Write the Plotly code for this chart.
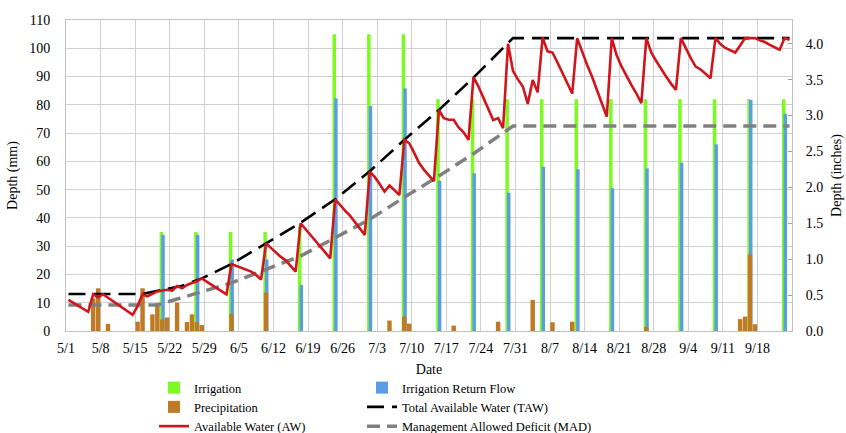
import pandas as pd
import plotly.graph_objects as go

YEAR = 2014
DAY_MS = 86400000
HALF_DAY = pd.Timedelta(hours=12)
FONT = "Liberation Serif, Times New Roman, serif"

# Daily available water in the root zone (mm), 5/1 through 9/24
aw_mm = [
    11.0, 10.0, 8.9, 7.8, 6.8, 13.0, 11.9, 13.0, 11.8, 10.6,
    9.4, 8.2, 7.0, 5.7, 8.8, 13.0, 12.3, 13.3, 14.0, 14.3,
    14.6, 14.3, 15.9, 15.1, 16.3, 17.0, 17.6, 18.6, 17.6, 16.3,
    15.2, 14.0, 13.0, 23.7, 23.0, 22.2, 21.7, 21.0, 19.8, 18.2,
    31.0, 29.3, 27.6, 26.2, 25.0, 23.0, 21.0, 38.1, 36.0, 34.0,
    31.9, 29.9, 27.8, 25.7, 46.6, 44.5, 42.6, 40.8, 38.5, 36.2,
    34.0, 56.4, 54.5, 52.0, 49.3, 51.5, 49.8, 48.1, 67.6, 66.4,
    63.0, 59.4, 57.0, 55.0, 53.0, 78.2, 75.3, 74.7, 74.7, 72.0,
    70.3, 67.6, 89.8, 86.5, 82.5, 78.0, 74.6, 75.3, 71.7, 101.6,
    92.0, 89.0, 86.5, 80.3, 88.8, 84.4, 103.8, 98.9, 98.5, 95.0,
    91.5, 87.5, 84.0, 103.6, 98.5, 94.2, 90.0, 85.5, 81.0, 75.8,
    103.6, 97.5, 93.5, 90.0, 87.0, 84.0, 80.6, 103.6, 98.5, 95.5,
    92.5, 90.0, 87.5, 85.3, 103.6, 100.0, 96.5, 93.5, 92.5, 91.0,
    89.4, 103.6, 101.5, 100.1, 99.2, 98.5, 101.0, 103.6, 103.6, 103.6,
    102.8, 102.2, 101.2, 100.3, 99.5, 103.6, 103.0,
]

# Weekly irrigation events (mm)
irr_dates = ["5/20", "5/27", "6/3", "6/10", "6/17", "6/24", "7/1", "7/8",
             "7/15", "7/22", "7/29", "8/5", "8/12", "8/19", "8/26", "9/2",
             "9/9", "9/16", "9/23"]
irrigation_mm = [35, 35, 35, 35, 37, 105, 105, 105,
                 82, 82, 82, 82, 82, 82, 82, 82, 82, 82, 82]
return_flow_mm = [34, 34, 25.3, 25.3, 16.3, 82.3, 79.6, 85.8,
                  53.1, 55.8, 48.9, 58.1, 57.2, 50.5, 57.5, 59.5, 66.0, 81.7, 76.8]

# Daily precipitation (mm)
precip_dates = ["5/6", "5/7", "5/9", "5/15", "5/16", "5/18", "5/19", "5/20",
                "5/21", "5/23", "5/25", "5/26", "5/27", "5/28", "6/3", "6/10",
                "7/5", "7/8", "7/9", "7/18", "7/27", "8/3", "8/7", "8/11",
                "8/26", "9/14", "9/15", "9/16", "9/17"]
precip_mm = [11.6, 15.1, 2.5, 3.3, 15.1, 5.9, 9.8, 4.1,
             4.8, 10.0, 3.2, 5.9, 3.2, 2.1, 6.1, 13.6,
             3.7, 5.1, 2.6, 1.9, 3.3, 11.0, 3.1, 3.3,
             1.4, 4.2, 5.1, 27.1, 2.4]

# Total available water (mm) at its break points
taw_dates = ["5/1", "5/16", "5/24", "5/28", "6/3", "6/10", "6/17", "6/24",
             "7/1", "7/8", "7/15", "7/22", "7/29", "7/30", "9/24"]
taw_mm = [13.1, 13.1, 16.0, 18.6, 23.7, 31.0, 38.3, 46.6,
          56.5, 67.6, 78.2, 89.6, 101.8, 103.6, 103.6]

# Management allowed deficit (mm) at its break points
mad_dates = ["5/1", "5/19", "5/23", "6/3", "6/17", "6/24", "7/1", "7/8",
             "7/15", "7/22", "7/29", "7/30", "9/24"]
mad_mm = [9.2, 9.2, 11.3, 17.0, 26.5, 33.0, 39.5, 47.3,
          54.8, 62.7, 71.3, 72.5, 72.5]

# Axis ticks
x_tick_labels = ["5/1", "5/8", "5/15", "5/22", "5/29", "6/5", "6/12",
                 "6/19", "6/26", "7/3", "7/10", "7/17", "7/24", "7/31",
                 "8/7", "8/14", "8/21", "8/28", "9/4", "9/11", "9/18"]
left_ticks_mm = list(range(0, 111, 10))
right_ticks_in = [0.0, 0.5, 1.0, 1.5, 2.0, 2.5, 3.0, 3.5, 4.0]
MM_PER_IN = 25.4


def to_dates(labels):
    return pd.to_datetime([f"{YEAR}/{s}" for s in labels])


start = pd.Timestamp(f"{YEAR}-05-01")
aw_dates = pd.date_range(start, periods=len(aw_mm), freq="D")

GREEN = "#7dfa22"
BLUE = "#5b9ce6"
BROWN = "#bf7a25"
RED = "#d0151c"

fig = go.Figure()

fig.add_trace(go.Bar(
    x=to_dates(irr_dates), y=irrigation_mm, name="Irrigation",
    marker=dict(color=GREEN, line=dict(width=0)),
    width=0.72 * DAY_MS, offset=-0.04 * DAY_MS,
    legend="legend", legendrank=1,
))
fig.add_trace(go.Bar(
    x=to_dates(irr_dates), y=return_flow_mm, name="Irrigation Return Flow",
    marker=dict(color=BLUE, line=dict(width=0)),
    width=0.7 * DAY_MS, offset=0.3 * DAY_MS,
    legend="legend2", legendrank=1,
))
fig.add_trace(go.Bar(
    x=to_dates(precip_dates), y=precip_mm, name="Precipitation",
    marker=dict(color=BROWN, line=dict(width=0)),
    width=0.9 * DAY_MS, offset=0.05 * DAY_MS,
    legend="legend", legendrank=2,
))
fig.add_trace(go.Scatter(
    x=to_dates(mad_dates) + HALF_DAY, y=mad_mm, mode="lines",
    name="Management Allowed Deficit (MAD)",
    line=dict(color="#808080", width=3.5, dash="13px,7px"),
    legend="legend2", legendrank=3,
))
fig.add_trace(go.Scatter(
    x=to_dates(taw_dates) + HALF_DAY, y=taw_mm, mode="lines",
    name="Total Available Water (TAW)",
    line=dict(color="#000000", width=2.6, dash="17px,8px"),
    legend="legend2", legendrank=2,
))
fig.add_trace(go.Scatter(
    x=aw_dates + HALF_DAY, y=aw_mm, mode="lines",
    name="Available Water (AW)",
    line=dict(color=RED, width=2.6),
    legend="legend", legendrank=3,
))
# empty trace so the inch axis is tied to data
fig.add_trace(go.Scatter(x=[None], y=[None], yaxis="y2", showlegend=False,
                         hoverinfo="skip"))

grid = "#d0d0d0"
frame = "#bfbfbf"
legend_style = dict(
    xanchor="left", yanchor="top", orientation="v",
    font=dict(family=FONT, size=12.5), bgcolor="rgba(0,0,0,0)",
    itemwidth=30, traceorder="normal",
)

fig.update_layout(
    width=846, height=433,
    margin=dict(l=66, r=54, t=20, b=102, autoexpand=False),
    paper_bgcolor="white", plot_bgcolor="white",
    barmode="overlay",
    font=dict(family=FONT, size=14, color="#000000"),
    xaxis=dict(
        type="date",
        range=[start, pd.Timestamp(f"{YEAR}-09-25")],
        tickvals=to_dates(x_tick_labels), ticktext=x_tick_labels,
        showgrid=True, gridcolor=grid, gridwidth=1,
        showline=True, linecolor=frame, linewidth=1, mirror=True,
        ticks="", ticklabelstandoff=4,
        title=dict(text="Date", font=dict(size=14), standoff=9),
        zeroline=False,
    ),
    yaxis=dict(
        range=[0, 110], tickvals=left_ticks_mm,
        showgrid=True, gridcolor=grid, gridwidth=1,
        showline=True, linecolor=frame, linewidth=1,
        ticks="", ticklabelstandoff=12,
        title=dict(text="Depth (mm)", font=dict(size=14), standoff=8),
        zeroline=False,
    ),
    yaxis2=dict(
        overlaying="y", side="right", anchor="x",
        range=[0, 110 / MM_PER_IN], tickvals=right_ticks_in,
        tickformat=".1f",
        showgrid=False, zeroline=False,
        showline=True, linecolor=frame, linewidth=1,
        ticks="inside", ticklen=4, tickcolor="#a0a0a0",
        ticklabelstandoff=10,
        title=dict(text="Depth (inches)", font=dict(size=14), standoff=8),
    ),
    legend=dict(x=(154 - 66) / 726, y=(331 - 373) / 311, **legend_style),
    legend2=dict(x=(362 - 66) / 726, y=(331 - 373) / 311, **legend_style),
)

fig.write_html("out.html")
